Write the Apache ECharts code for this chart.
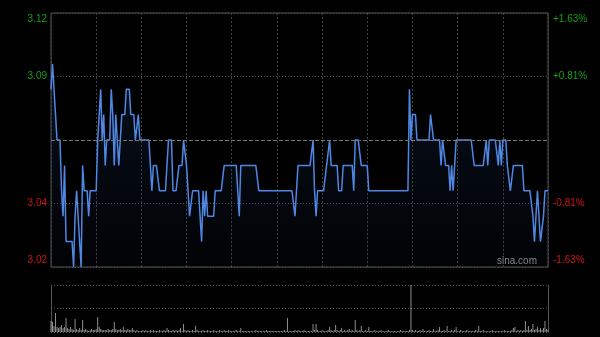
<!DOCTYPE html>
<html><head><meta charset="utf-8">
<script src="https://cdn.jsdelivr.net/npm/echarts@6/dist/echarts.min.js"></script>
<style>html,body{margin:0;padding:0;background:#000}#c{width:600px;height:337px}</style>
</head><body><div id="c"></div><script>
const prevClose = 3.07;
const priceMin = 3.02, priceMax = 3.12, priceStep = 0.025;
const priceTickLabels = ['3.02', '3.04', '', '3.09', '3.12'];
const pctTickLabels = ['-1.63%', '-0.81%', '', '+0.81%', '+1.63%'];
const volMax = 470;

const prices = [
3.09,3.10,3.09,3.08,3.07,3.07,3.07,3.05,3.04,3.06,
3.03,3.03,3.03,3.03,3.03,3.02,3.04,3.05,3.04,3.03,
3.02,3.06,3.05,3.05,3.05,3.04,3.05,3.05,3.05,3.05,
3.05,3.07,3.08,3.09,3.07,3.08,3.06,3.07,3.07,3.07,
3.09,3.08,3.06,3.08,3.08,3.06,3.06,3.08,3.08,3.08,
3.09,3.09,3.09,3.08,3.08,3.08,3.07,3.07,3.08,3.07,
3.07,3.07,3.07,3.07,3.07,3.07,3.06,3.05,3.06,3.06,
3.06,3.06,3.05,3.05,3.05,3.05,3.05,3.06,3.07,3.07,
3.07,3.05,3.05,3.05,3.05,3.06,3.06,3.06,3.07,3.07,
3.06,3.05,3.04,3.04,3.05,3.05,3.05,3.05,3.05,3.04,
3.03,3.05,3.04,3.05,3.04,3.04,3.04,3.04,3.04,3.05,
3.05,3.05,3.05,3.05,3.05,3.06,3.06,3.06,3.06,3.06,
3.06,3.06,3.06,3.06,3.06,3.04,3.06,3.06,3.06,3.06,
3.06,3.06,3.06,3.06,3.06,3.06,3.06,3.06,3.05,3.05,
3.05,3.05,3.05,3.05,3.05,3.05,3.05,3.05,3.05,3.05,
3.05,3.05,3.05,3.05,3.05,3.05,3.05,3.05,3.05,3.05,
3.05,3.05,3.04,3.05,3.06,3.06,3.06,3.06,3.06,3.06,
3.06,3.06,3.06,3.06,3.07,3.05,3.04,3.05,3.05,3.05,
3.05,3.05,3.05,3.06,3.06,3.07,3.06,3.06,3.06,3.06,
3.06,3.05,3.05,3.05,3.06,3.06,3.06,3.06,3.06,3.06,
3.06,3.05,3.07,3.07,3.07,3.07,3.06,3.06,3.06,3.06,
3.06,3.05,3.05,3.05,3.05,3.05,3.05,3.05,3.05,3.05,
3.05,3.05,3.05,3.05,3.05,3.05,3.05,3.05,3.05,3.05,
3.05,3.05,3.05,3.05,3.05,3.05,3.05,3.05,3.09,3.07,
3.08,3.08,3.08,3.07,3.07,3.07,3.07,3.07,3.07,3.07,
3.07,3.07,3.08,3.08,3.07,3.07,3.07,3.07,3.07,3.06,
3.07,3.07,3.06,3.06,3.06,3.05,3.06,3.05,3.06,3.07,
3.07,3.07,3.07,3.07,3.07,3.07,3.07,3.07,3.07,3.07,
3.07,3.06,3.06,3.06,3.06,3.06,3.06,3.06,3.06,3.07,
3.06,3.07,3.07,3.07,3.07,3.07,3.07,3.06,3.07,3.06,
3.07,3.07,3.07,3.06,3.06,3.05,3.05,3.06,3.06,3.06,
3.06,3.06,3.06,3.06,3.05,3.05,3.05,3.05,3.05,3.05,
3.04,3.03,3.04,3.05,3.04,3.03,3.03,3.04,3.05,3.05,
3.05
];

const volumes = [
110,100,60,190,50,40,50,70,40,50,
140,40,30,50,30,20,130,30,20,40,
20,120,20,30,20,10,20,30,20,20,
30,150,50,30,20,20,20,20,30,20,
20,30,100,30,20,20,30,20,50,20,
20,30,20,20,40,20,10,20,10,10,
10,20,10,20,10,10,20,10,20,10,
10,10,20,10,10,20,10,40,20,10,
10,20,10,20,10,20,40,10,80,20,
10,20,10,10,20,10,60,20,10,10,
10,20,10,10,20,10,10,10,20,10,
10,10,20,10,10,20,10,10,20,10,
10,10,10,20,10,10,40,10,10,10,
10,10,10,10,10,10,20,10,10,10,
10,10,10,20,10,10,10,10,10,10,
10,10,10,10,10,20,10,140,10,10,
10,10,20,10,20,10,10,10,20,10,
10,10,10,10,80,20,80,20,10,10,
20,10,10,10,20,50,20,10,20,70,
20,10,20,40,10,20,10,20,30,10,
20,10,120,20,10,20,60,10,10,20,
10,50,10,10,10,20,10,10,10,20,
10,10,10,10,20,10,10,10,10,10,
10,10,20,10,10,10,10,10,20,470,
20,10,20,10,10,20,10,30,10,10,
10,20,10,10,30,10,10,20,50,10,
10,20,10,60,10,10,20,10,20,50,
10,10,20,10,10,10,20,10,10,10,
10,10,20,10,60,10,10,20,10,10,
10,10,10,20,10,10,10,10,10,10,
10,20,10,10,10,10,20,40,50,10,
20,10,20,10,20,110,20,60,20,30,
80,20,30,50,20,40,20,40,110,30,
20
];

// trading minutes 09:30-11:59 and 13:00-16:00
const times = [];
function pad(n){return (n<10?'0':'')+n;}
for (let m = 9*60+30; m < 12*60; m++) times.push(pad(Math.floor(m/60))+':'+pad(m%60));
for (let m = 13*60; m <= 16*60; m++) times.push(pad(Math.floor(m/60))+':'+pad(m%60));

const GREEN = '#14a014', RED = '#d01414';
function labelFmt(arr){
  return function(v, i){
    const t = arr[i];
    if (!t) return '';
    const tag = i < 2 ? 'r' : 'g';
    if (i === 0) return '{' + tag + '|' + t + '}\n';
    if (i === arr.length - 1) return '\n{' + tag + '|' + t + '}';
    return '{' + tag + '|' + t + '}';
  };
}
const rich = {
  g: {color: GREEN, fontSize: 10, fontFamily: 'Liberation Sans, Arial, sans-serif', lineHeight: 13},
  r: {color: RED, fontSize: 10, fontFamily: 'Liberation Sans, Arial, sans-serif', lineHeight: 13}
};

const chart = echarts.init(document.getElementById('c'), null, {renderer: 'canvas'});
chart.setOption({
  backgroundColor: '#000',
  animation: false,
  grid: [
    {left: 51, right: 52, top: 13, height: 254, show: true, borderColor: '#555', borderWidth: 1, backgroundColor: 'transparent'},
    {left: 51, right: 52, top: 285, height: 47, show: false}
  ],
  xAxis: [
    {type: 'category', gridIndex: 0, data: times, boundaryGap: false,
     axisLine: {show: false}, axisTick: {show: false}, axisLabel: {show: false},
     splitLine: {show: true, interval: function(i){ return i % 30 === 0; },
       lineStyle: {color: '#444', type: [2, 2], width: 1}}},
    {type: 'category', gridIndex: 1, data: times, boundaryGap: false,
     axisLine: {show: false}, axisTick: {show: false}, axisLabel: {show: false}, splitLine: {show: false}}
  ],
  yAxis: [
    {type: 'value', gridIndex: 0, position: 'left', min: priceMin, max: priceMax, interval: priceStep,
     axisLine: {show: false}, axisTick: {show: false},
     axisLabel: {show: true, margin: 4, lineHeight: 13, fontSize: 10, formatter: labelFmt(priceTickLabels), rich: rich},
     splitLine: {show: true, lineStyle: {color: '#505050', type: [1, 2], width: 1}}},
    {type: 'value', gridIndex: 0, position: 'right', min: priceMin, max: priceMax, interval: priceStep,
     axisLine: {show: false}, axisTick: {show: false},
     axisLabel: {show: true, margin: 5, lineHeight: 13, fontSize: 10, formatter: labelFmt(pctTickLabels), rich: rich},
     splitLine: {show: false}},
    {type: 'value', gridIndex: 1, position: 'left', min: 0, max: volMax, interval: volMax / 2,
     axisLine: {show: true, lineStyle: {color: '#555', width: 1}}, axisTick: {show: false}, axisLabel: {show: false},
     splitLine: {show: true, lineStyle: {color: '#555', type: [1, 2], width: 1}}},
    {type: 'value', gridIndex: 1, position: 'right', min: 0, max: volMax, interval: volMax / 2,
     axisLine: {show: true, lineStyle: {color: '#555', width: 1}}, axisTick: {show: false}, axisLabel: {show: false},
     splitLine: {show: false}}
  ],
  series: [
    {type: 'line', xAxisIndex: 0, yAxisIndex: 0, data: prices, symbol: 'none', smooth: false,
     lineStyle: {color: '#4f87e3', width: 1.5},
     areaStyle: {color: new echarts.graphic.LinearGradient(0, 0, 0, 1, [
       {offset: 0, color: 'rgba(30,60,110,0.4)'}, {offset: 1, color: 'rgba(20,40,80,0.1)'}])},
     markLine: {silent: true, symbol: 'none', label: {show: false},
       lineStyle: {color: '#777', type: [4, 2], width: 1}, data: [{yAxis: prevClose}]}},
    {type: 'bar', xAxisIndex: 1, yAxisIndex: 2, data: volumes, barWidth: 1, clip: true,
     itemStyle: {color: '#8f8f8f'}}
  ],
  graphic: [
    {type: 'text', right: 63, top: 256, style: {text: 'sina.com', fill: '#8c8c8c', font: '10px "Liberation Sans", Arial, sans-serif'}}
  ]
});
</script></body></html>
